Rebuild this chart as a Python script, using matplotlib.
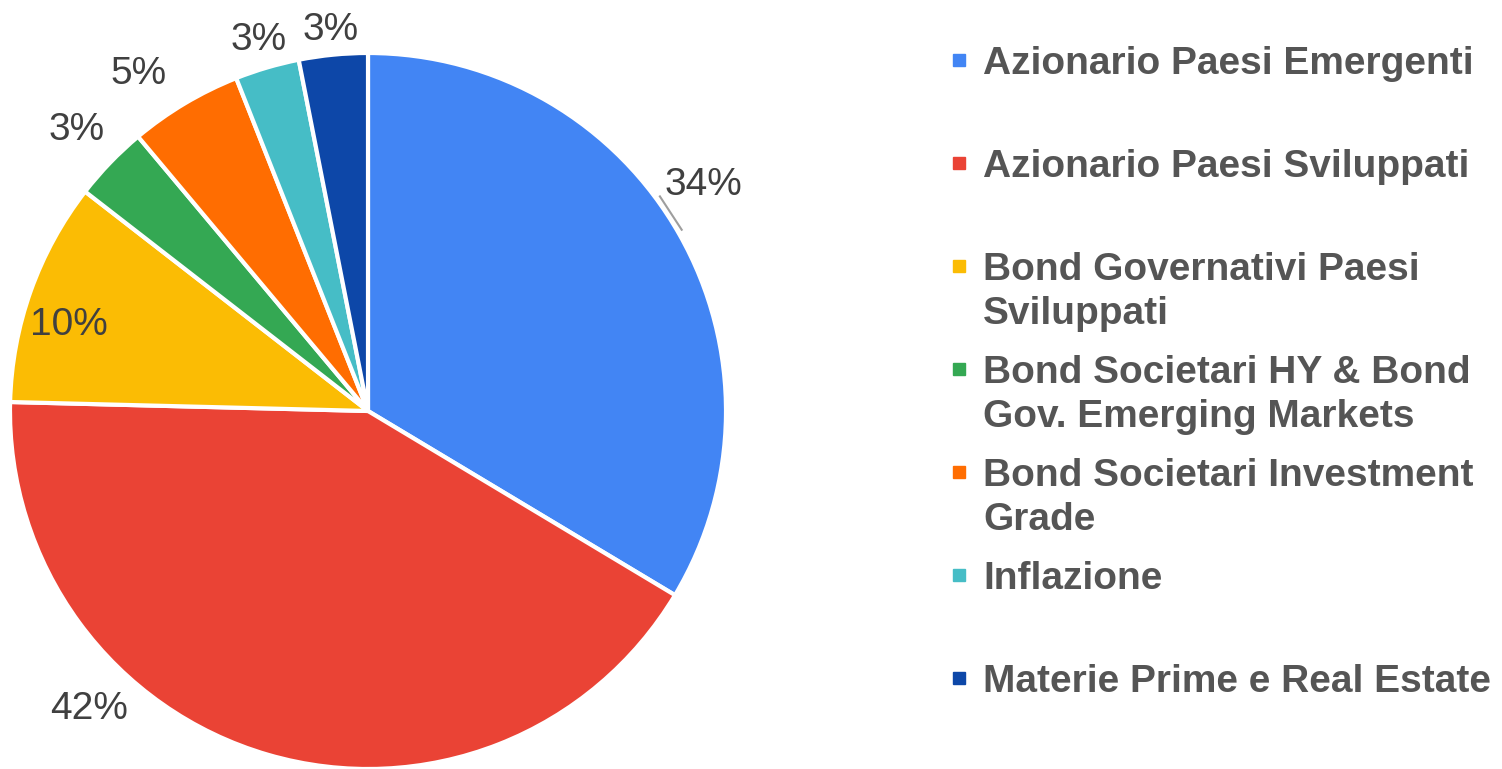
import numpy as np
import matplotlib
matplotlib.use("Agg")
import matplotlib.pyplot as plt
from matplotlib.patches import Rectangle

plt.rcParams['font.family'] = ['Liberation Sans', 'DejaVu Sans']

# data
categories = ['Azionario Paesi Emergenti',
              'Azionario Paesi Sviluppati',
              'Bond Governativi Paesi\nSviluppati',
              'Bond Societari HY & Bond\nGov. Emerging Markets',
              'Bond Societari Investment\nGrade',
              'Inflazione',
              'Materie Prime e Real Estate']
shares = [33.6, 41.8, 10.1, 3.4, 5.1, 2.9, 3.1]
colors = ['#4285F4', '#EA4335', '#FBBC04', '#34A853', '#FF6D01', '#46BDC6', '#0D47A8']

# label placement (radius in pie units, angle shift in degrees ccw)
label_r = [1.13, 1.14, 0.87, 1.13, 1.14, 1.08, 1.07]
label_shift = [4.5, -27, 3.5, 0, 3.5, 0, 0]

W, H = 1502, 769
fig = plt.figure(figsize=(W / 100, H / 100), dpi=100)

R = 358
cx, cy = 368, 411
ax = fig.add_axes([(cx - R) / W, (H - cy - R) / H, 2 * R / W, 2 * R / H])
wedges, _ = ax.pie(shares, colors=colors, startangle=90, counterclock=False,
                   wedgeprops=dict(edgecolor='white', linewidth=3))
ax.set_xlim(-1, 1)
ax.set_ylim(-1, 1)
ax.axis('off')

for w, v, r, s in zip(wedges, shares, label_r, label_shift):
    mid = np.deg2rad((w.theta1 + w.theta2) / 2 + s)
    ax.text(r * np.cos(mid), r * np.sin(mid), '%d%%' % round(v),
            ha='center', va='center', fontsize=28, color='#404040', clip_on=False)

# little leader line next to the 34% label
w0 = wedges[0]
m = (w0.theta1 + w0.theta2) / 2
a1, a2 = np.deg2rad(m + 0.5), np.deg2rad(m + 6.8)
ax.plot([1.012 * np.cos(a1), 1.012 * np.cos(a2)],
        [1.012 * np.sin(a1), 1.012 * np.sin(a2)],
        color='#9e9e9e', lw=1.5, clip_on=False)

# legend, drawn by hand
y0, step, line_h = 60, 103, 44
for i, (lab, c) in enumerate(zip(categories, colors)):
    y = y0 + step * i
    fig.patches.append(Rectangle(((959 - 6) / W, 1 - (y + 6) / H), 12 / W, 12 / H,
                                 transform=fig.transFigure, color=c))
    for j, part in enumerate(lab.split('\n')):
        fig.text(983 / W, 1 - (y + j * line_h) / H, part, ha='left', va='center_baseline',
                 fontsize=28, fontweight='bold', color='#555555')

fig.savefig('out.png', dpi=100)
